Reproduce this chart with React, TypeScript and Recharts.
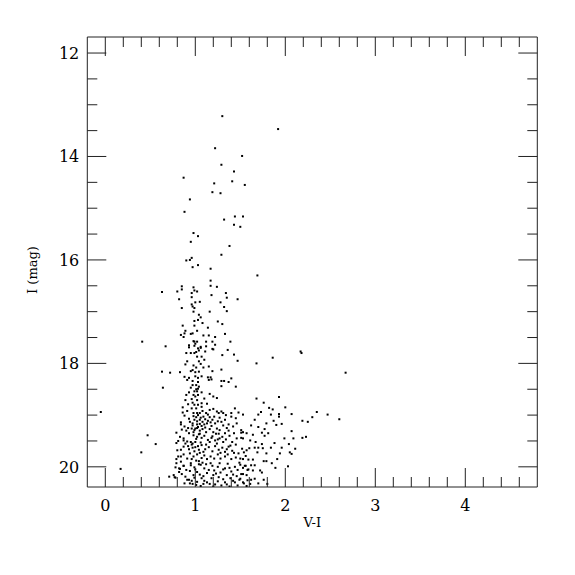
import { ScatterChart, Scatter, XAxis, YAxis } from 'recharts';

// [V-I, I] pairs
const brightStars: [number, number][] = [
  [1.30, 13.22], [1.92, 13.47], [1.22, 13.84], [1.52, 13.99], [1.29, 14.16], [1.43, 14.29],
  [0.87, 14.41], [1.21, 14.52], [1.41, 14.48], [1.55, 14.55], [1.19, 14.69], [1.28, 14.71],
  [0.94, 14.83], [0.88, 15.07], [1.32, 15.22], [1.44, 15.16], [1.53, 15.16], [1.43, 15.32],
  [1.50, 15.36], [0.98, 15.48], [1.03, 15.54], [0.95, 15.65], [1.38, 15.73], [1.29, 15.90],
  [0.96, 15.96], [0.94, 16.00], [0.90, 16.01], [0.97, 16.14], [1.03, 16.10], [1.17, 16.17],
  [1.69, 16.30], [1.17, 16.40], [0.85, 16.51], [0.98, 16.53], [1.17, 16.50], [1.24, 16.52],
  [0.63, 16.62], [0.80, 16.61], [0.85, 16.57], [0.96, 16.64], [0.99, 16.59], [1.02, 16.61],
  [1.18, 16.68], [1.34, 16.64], [1.35, 16.73], [0.82, 16.76], [0.96, 16.72], [1.47, 16.76],
];

const upperGiants: [number, number][] = [
  [1.00, 16.82], [1.05, 16.81], [0.96, 16.86], [1.28, 16.82], [0.97, 16.90], [0.85, 16.93],
  [0.99, 16.93], [1.32, 16.91], [0.98, 17.00], [1.16, 17.00], [1.35, 16.99], [1.04, 17.06],
  [1.06, 17.11], [1.03, 17.16], [0.99, 17.18], [1.08, 17.22], [1.25, 17.19], [1.30, 17.24],
  [0.86, 17.27], [0.99, 17.27], [1.14, 17.31], [0.89, 17.37], [0.84, 17.45], [0.88, 17.42],
  [0.95, 17.43], [0.97, 17.42], [1.02, 17.37], [1.09, 17.46], [1.15, 17.46], [1.22, 17.49],
  [1.33, 17.43], [0.87, 17.49], [0.98, 17.57], [0.99, 17.58], [1.02, 17.58], [1.00, 17.62],
  [0.93, 17.65], [1.12, 17.58], [1.19, 17.58], [1.22, 17.64], [1.39, 17.58], [0.67, 17.67],
  [1.06, 17.70], [1.20, 17.73], [1.03, 17.71], [0.41, 17.58], [1.36, 17.74],
];

const midGiants: [number, number][] = [
  [0.93, 17.69], [0.99, 17.66], [1.06, 17.68], [1.12, 17.67], [1.19, 17.72], [0.90, 17.80],
  [0.95, 17.80], [0.99, 17.80], [1.01, 17.78], [1.04, 17.75], [1.11, 17.77], [1.30, 17.84],
  [1.43, 17.83], [1.47, 17.95], [1.02, 17.87], [1.07, 17.87], [1.10, 17.93], [0.91, 17.96],
  [0.89, 18.02], [1.04, 17.96], [1.06, 18.01], [0.98, 18.04], [1.01, 18.08], [1.09, 18.08],
  [1.15, 18.06], [1.19, 18.15], [1.29, 18.12], [0.63, 18.16], [0.72, 18.18], [0.83, 18.17],
  [0.95, 18.15], [0.97, 18.13], [1.00, 18.17], [1.04, 18.16], [0.88, 18.26], [0.93, 18.28],
  [1.00, 18.25], [1.03, 18.28], [1.07, 18.25], [1.14, 18.27], [1.17, 18.27], [1.15, 18.32],
  [1.18, 18.31], [1.29, 18.34], [1.32, 18.34], [1.40, 18.29], [1.37, 18.36], [0.91, 18.32],
  [0.97, 18.34], [1.03, 18.36], [0.97, 18.42], [1.01, 18.42], [1.04, 18.45], [0.95, 18.47],
  [0.64, 18.47], [1.29, 18.44], [1.45, 18.45], [1.01, 18.50], [1.03, 18.49], [0.93, 18.56],
  [0.99, 18.54], [1.02, 18.54], [1.07, 18.56], [1.16, 18.59], [0.90, 18.61], [0.98, 18.61],
  [1.03, 18.61], [1.20, 18.64], [1.24, 18.67], [1.00, 18.64], [0.96, 18.69], [0.89, 18.71],
  [1.02, 18.71], [1.10, 18.68], [0.92, 18.79], [0.97, 18.76], [0.99, 18.80], [1.03, 18.80],
  [1.07, 18.77], [1.13, 18.78], [0.86, 18.85], [0.96, 18.87], [1.01, 18.87], [1.07, 18.84],
  [1.16, 18.90], [1.20, 18.88], [1.29, 18.93], [1.44, 18.87], [0.91, 18.92], [0.98, 18.96],
  [1.02, 18.96], [1.05, 18.96], [1.12, 18.96], [1.26, 18.96], [1.31, 18.96], [1.40, 18.96],
  [1.48, 18.95], [1.24, 18.93], [1.08, 18.92],
];

const redStars: [number, number][] = [
  [2.17, 17.77], [2.18, 17.80], [1.86, 17.89], [1.68, 18.00], [2.67, 18.18], [1.68, 18.68],
  [1.93, 18.65], [1.76, 18.76], [2.00, 18.85], [1.82, 18.86], [1.86, 18.89], [1.53, 18.99],
  [1.70, 18.99], [1.73, 18.94], [1.84, 18.99], [1.93, 18.98], [1.93, 19.03], [2.07, 18.98],
  [2.35, 18.94], [2.47, 18.99], [2.30, 19.04], [2.60, 19.08], [2.19, 19.11], [2.25, 19.13],
  [1.87, 19.11], [1.79, 19.16], [1.96, 19.17], [1.90, 19.19], [1.51, 19.29], [1.51, 19.34],
  [1.53, 19.33], [1.57, 19.35], [1.70, 19.23], [1.77, 19.27], [1.74, 19.34],
  [1.81, 19.35], [1.77, 19.40], [2.07, 19.31], [1.53, 19.45], [2.19, 19.44], [2.23, 19.42],
  [2.09, 19.45], [1.88, 19.54], [1.74, 19.56], [2.04, 19.56], [2.11, 19.65], [1.60, 19.64],
  [1.66, 19.63], [1.70, 19.63], [1.75, 19.64], [2.05, 19.72], [2.07, 19.75], [1.54, 19.72],
  [1.57, 19.68], [1.69, 19.72], [1.79, 19.74], [1.94, 19.74], [1.53, 19.85], [1.59, 19.86],
  [1.64, 19.86], [1.76, 19.89], [1.79, 19.89], [1.91, 19.85], [1.85, 19.93], [1.50, 19.96],
  [1.55, 19.98], [1.62, 19.97], [1.66, 19.97], [1.89, 20.02], [2.03, 19.99], [1.58, 20.06],
  [1.64, 20.07], [1.72, 20.07], [1.74, 20.11], [1.53, 20.14], [1.57, 20.16], [1.50, 20.23],
  [1.58, 20.26], [1.62, 20.25], [1.66, 20.23], [1.76, 20.25], [1.80, 20.33], [1.70, 20.32],
  [1.54, 20.32], [1.61, 20.33], [1.61, 19.49], [1.64, 19.38], [1.67, 19.52], [1.84, 19.63],
  [1.96, 19.63], [1.99, 19.45], [1.62, 19.20], [1.66, 19.09],
];

const blueStars: [number, number][] = [
  [-0.05, 18.94], [0.47, 19.39], [0.56, 19.56], [0.40, 19.72], [0.17, 20.04], [0.71, 20.19],
  [0.77, 20.20], [0.84, 19.14], [0.79, 19.34], [0.81, 19.50], [0.80, 19.68], [0.79, 19.85],
  [0.78, 20.01], [0.83, 20.04], [0.82, 20.10], [0.84, 19.80], [0.87, 19.61], [0.86, 18.95],
  [0.88, 19.01], [0.85, 19.28], [0.87, 19.45], [0.84, 19.90], [0.87, 19.98], [0.89, 20.19],
  [0.91, 20.25], [0.94, 20.32],
];

const faintStars: [number, number][] = [
  [0.98, 19.02], [1.01, 19.04], [1.03, 19.00], [1.06, 19.05], [1.09, 19.03], [0.99, 19.09],
  [1.02, 19.12], [1.05, 19.09], [1.08, 19.13], [1.11, 19.08], [0.97, 19.16], [1.02, 19.18],
  [1.05, 19.17], [1.07, 19.21], [1.10, 19.18], [1.13, 19.16], [0.93, 19.07], [0.94, 19.13],
  [1.16, 19.04], [1.19, 19.09], [1.22, 19.16], [1.27, 19.05], [1.29, 19.13], [1.33, 19.09],
  [1.37, 19.18], [1.40, 19.03], [1.46, 19.16], [0.84, 19.18], [0.88, 19.22], [0.90, 19.30],
  [0.96, 19.26], [0.99, 19.29], [1.02, 19.25], [1.05, 19.30], [1.08, 19.27], [1.12, 19.33],
  [1.16, 19.27], [1.20, 19.33], [1.24, 19.26], [1.26, 19.36], [1.30, 19.42], [1.33, 19.35],
  [1.37, 19.30], [0.93, 19.35], [0.98, 19.39], [1.02, 19.42], [1.05, 19.36], [1.07, 19.44],
  [1.10, 19.40], [1.14, 19.48], [1.18, 19.44], [1.22, 19.49], [1.25, 19.47], [1.51, 19.44],
  [1.41, 19.52], [0.83, 19.42], [0.87, 19.49], [0.79, 19.54], [0.91, 19.51], [0.95, 19.52],
  [1.00, 19.52],
  [0.92, 19.60], [0.96, 19.57], [1.00, 19.62], [1.04, 19.67], [1.07, 19.58], [1.11, 19.66],
  [1.15, 19.62], [1.19, 19.70], [1.22, 19.60], [1.26, 19.67], [1.30, 19.63], [1.33, 19.71],
  [1.37, 19.61], [1.41, 19.69], [1.45, 19.57], [1.48, 19.74], [1.52, 19.65], [0.84, 19.67],
  [0.81, 19.80], [0.87, 19.76], [0.94, 19.74], [0.98, 19.80], [1.02, 19.76], [1.07, 19.83],
  [1.10, 19.78], [1.13, 19.85], [1.17, 19.80], [1.21, 19.84], [1.25, 19.76], [1.28, 19.84],
  [1.33, 19.80], [1.36, 19.76], [1.40, 19.85], [1.45, 19.82], [1.50, 19.84], [1.56, 19.79],
  [0.79, 19.93], [0.82, 20.03], [0.87, 19.98], [0.90, 20.06], [0.95, 19.93], [0.99, 20.01],
  [1.02, 20.10], [1.06, 19.96], [1.10, 20.03], [1.13, 20.12], [1.17, 19.93], [1.21, 20.07],
  [1.25, 20.00], [1.28, 20.11], [1.33, 20.03], [1.36, 19.94], [1.40, 20.09], [1.44, 20.00],
  [1.47, 20.06], [1.51, 20.14], [1.56, 19.98], [1.59, 20.05], [0.76, 20.16], [0.85, 20.14],
  [0.98, 20.16], [1.09, 20.18], [1.20, 20.16], [1.35, 20.16], [1.46, 20.18],
  [0.78, 20.21], [0.93, 20.25], [0.97, 20.33], [1.02, 20.29], [1.06, 20.37], [1.10, 20.27],
  [1.16, 20.33], [1.20, 20.38], [1.25, 20.28], [1.29, 20.36], [1.33, 20.30], [1.38, 20.38],
  [1.42, 20.27], [1.47, 20.36], [1.53, 20.30], [1.57, 20.37],
  [0.97, 19.20], [1.03, 19.23], [1.00, 19.26], [0.98, 19.33], [1.04, 19.37], [1.01, 19.46],
  [0.97, 19.55], [1.03, 19.60], [0.99, 19.70], [1.05, 19.73], [1.01, 19.88], [0.96, 19.85],
  [1.04, 19.95], [1.00, 20.05], [0.94, 20.08], [1.07, 20.22], [0.99, 20.21], [1.11, 19.24],
  [1.14, 19.11], [1.18, 19.21], [1.23, 19.36], [1.27, 19.29],
  [0.89, 19.55], [0.93, 19.66], [0.97, 19.63], [1.06, 19.53], [1.09, 19.71], [1.12, 19.57],
  [1.16, 19.52], [1.24, 19.55], [1.28, 19.73], [1.31, 19.52], [1.35, 19.66], [1.39, 19.59],
  [1.43, 19.73], [0.91, 19.84], [0.95, 19.97], [1.04, 19.89], [1.08, 19.92], [1.12, 19.95],
  [1.15, 20.06], [1.19, 19.98], [1.23, 20.13], [1.27, 19.93], [1.31, 20.05], [1.38, 20.02],
  [1.42, 20.15], [1.49, 19.92], [1.53, 20.02], [1.18, 20.22], [1.26, 20.20], [1.31, 20.24],
  [1.39, 20.22], [1.44, 20.30], [1.49, 20.25], [0.96, 20.27], [1.05, 20.15], [1.13, 20.30],
  [1.22, 20.34], [1.35, 20.34], [0.88, 20.32], [1.01, 20.35], [1.09, 20.33], [1.19, 19.41],
  [1.27, 19.45], [1.34, 19.47], [1.38, 19.40], [1.43, 19.35], [1.46, 19.45], [1.31, 19.20],
  [1.35, 19.25], [1.42, 19.22], [1.45, 19.06], [1.25, 19.12], [1.17, 19.14], [1.21, 19.03],
  [0.92, 19.25], [1.14, 18.99], [1.34, 19.00],
];

const xMajor = [0, 1, 2, 3, 4];
const yMajor = [12, 14, 16, 18, 20];
const xTicks = Array.from({ length: 24 }, (_, i) => Math.round(i * 2) / 10);
const yTicks = Array.from({ length: 17 }, (_, i) => 12 + i * 0.5);

const X_DOMAIN: [number, number] = [-0.2, 4.8];
const Y_DOMAIN: [number, number] = [11.69, 20.39];

const FONT = 'DejaVu Serif, serif';

const toRows = (pts: [number, number][]) => pts.map(([vi, mag]) => ({ vi, mag }));

const Dot = (props: any) => {
  const { cx, cy } = props;
  if (cx == null || cy == null) return null;
  return <rect x={cx - 1} y={cy - 1} width={2} height={2} fill="#000" />;
};

type Side = 'bottom' | 'top' | 'left' | 'right';

// ticks point into the frame; tickSize=0 so (x, y) sits on the axis line
const renderTick = (side: Side) => (props: any) => {
  const { x, y, payload } = props;
  const v = payload.value;
  const horizontal = side === 'bottom' || side === 'top';
  const major = horizontal ? xMajor.includes(v) : yMajor.includes(v);
  const len = major ? 19 : 10;
  let line;
  if (side === 'bottom') line = <line x1={x} y1={y} x2={x} y2={y - len} stroke="#222" />;
  else if (side === 'top') line = <line x1={x} y1={y} x2={x} y2={y + len} stroke="#222" />;
  else if (side === 'left') line = <line x1={x} y1={y} x2={x + len} y2={y} stroke="#222" />;
  else line = <line x1={x} y1={y} x2={x - len} y2={y} stroke="#222" />;

  let label = null;
  if (major && side === 'bottom') {
    label = (
      <text x={x} y={y + 24} textAnchor="middle" fontFamily={FONT} fontSize={16} fill="#000">
        {v}
      </text>
    );
  } else if (major && side === 'left') {
    label = (
      <text x={x - 8} y={y + 6} textAnchor="end" fontFamily={FONT} fontSize={16} fill="#000">
        {v}
      </text>
    );
  }
  return (
    <g>
      {line}
      {label}
    </g>
  );
};

const xLabel = (props: any) => {
  const { viewBox } = props;
  return (
    <text
      x={viewBox.x + viewBox.width / 2}
      y={viewBox.y + 40}
      textAnchor="middle"
      fontFamily={FONT}
      fontSize={13}
      fill="#000"
    >
      V-I
    </text>
  );
};

const yLabel = (props: any) => {
  const { viewBox } = props;
  const cx = viewBox.x + viewBox.width - 50;
  const cy = viewBox.y + viewBox.height / 2 + 8;
  return (
    <text
      x={cx}
      y={cy}
      transform={`rotate(-90 ${cx} ${cy})`}
      textAnchor="middle"
      fontFamily={FONT}
      fontSize={13}
      fill="#000"
    >
      I (mag)
    </text>
  );
};

const groups = [brightStars, upperGiants, midGiants, redStars, blueStars, faintStars];

export default function App() {
  return (
    <div style={{ width: 559, height: 559 }}>
      <ScatterChart
        width={559}
        height={559}
        margin={{ top: 19, right: 19.7, bottom: 30, left: 19.3 }}
      >
        <XAxis
          xAxisId="b"
          type="number"
          dataKey="vi"
          domain={X_DOMAIN}
          allowDataOverflow
          ticks={xTicks}
          interval={0}
          height={50}
          tickSize={0}
          tickMargin={0}
          tickLine={false}
          axisLine={{ stroke: '#222' }}
          tick={renderTick('bottom')}
          label={{ content: xLabel }}
        />
        <XAxis
          xAxisId="t"
          orientation="top"
          type="number"
          dataKey="vi"
          domain={X_DOMAIN}
          allowDataOverflow
          ticks={xTicks}
          interval={0}
          height={10}
          tickSize={0}
          tickMargin={0}
          tickLine={false}
          axisLine={{ stroke: '#222' }}
          tick={renderTick('top')}
        />
        <YAxis
          yAxisId="l"
          type="number"
          dataKey="mag"
          reversed
          domain={Y_DOMAIN}
          allowDataOverflow
          ticks={yTicks}
          interval={0}
          width={60}
          tickSize={0}
          tickMargin={0}
          tickLine={false}
          axisLine={{ stroke: '#222' }}
          tick={renderTick('left')}
          label={{ content: yLabel }}
        />
        <YAxis
          yAxisId="r"
          orientation="right"
          type="number"
          dataKey="mag"
          reversed
          domain={Y_DOMAIN}
          allowDataOverflow
          ticks={yTicks}
          interval={0}
          width={10}
          tickSize={0}
          tickMargin={0}
          tickLine={false}
          axisLine={{ stroke: '#222' }}
          tick={renderTick('right')}
        />
        {groups.map((g, i) => (
          <Scatter
            key={i}
            xAxisId="b"
            yAxisId="l"
            data={toRows(g)}
            shape={Dot}
            isAnimationActive={false}
          />
        ))}
        <Scatter
          xAxisId="t"
          yAxisId="r"
          data={toRows(blueStars.slice(0, 1))}
          shape={() => null}
          isAnimationActive={false}
        />
      </ScatterChart>
    </div>
  );
}
